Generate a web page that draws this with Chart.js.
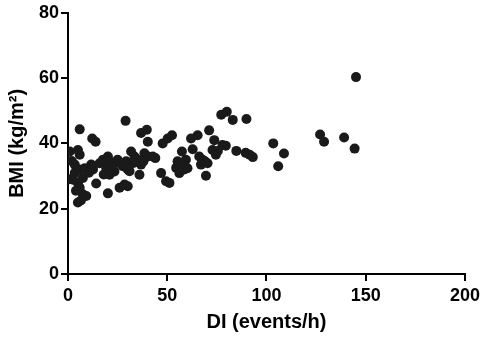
<!DOCTYPE html>
<html>
<head>
<meta charset="utf-8">
<script src="https://cdn.jsdelivr.net/npm/chart.js@4/dist/chart.umd.min.js"></script>
<style>
  html, body { margin: 0; padding: 0; background: #fff; }
  #wrap { width: 484px; height: 338px; }
</style>
</head>
<body>
<div id="wrap"><canvas id="myChart" width="484" height="338"></canvas></div>
<script>
// DI (events/h) vs BMI (kg/m2)
const diValues = [
    0.5, 0.9, 1.9, 3.4, 5.0, 5.9, 5.9, 2.5, 5.0, 5.9, 7.5, 5.0, 9.2, 3.4, 5.9, 7.5, 8.4, 6.5, 4.0,
    11.7, 12.6, 12.2, 13.9, 14.2, 15.9, 17.6, 20.1, 20.9, 19.3, 20.9, 20.1, 23.4, 26.0, 27.6, 29.3,
    30.1, 26.0, 28.5, 30.1, 29.0, 10.5, 22.0, 25.0, 18.0,
    31.8, 33.5, 35.1, 36.8, 36.0, 38.5, 40.2, 42.7, 36.8, 39.7, 40.2, 33.0, 38.0, 31.0, 44.0,
    47.7, 50.2, 52.4, 46.9, 49.4, 51.1, 55.2, 57.7, 59.4, 56.1, 58.6, 60.2, 57.4, 54.5,
    62.0, 65.3, 62.8, 66.1, 67.8, 70.3, 67.0, 69.5, 72.8, 73.7, 71.1, 77.8, 77.2, 80.0, 83.0,
    84.8, 75.5, 79.5, 89.9, 89.5, 93.1, 91.5, 74.5, 69.0,
    103.4, 108.8, 105.9, 127.0, 129.0, 139.1, 144.4, 145.1
];
const bmiValues = [
    29.0, 37.5, 34.6, 33.5, 38.0, 36.5, 44.3, 28.9, 27.9, 26.4, 24.4, 21.9, 23.9, 30.9, 32.0, 29.4, 32.4, 22.5, 25.5,
    33.5, 32.0, 41.5, 40.5, 27.7, 33.9, 35.0, 36.0, 34.5, 32.4, 30.4, 24.7, 31.4, 33.9, 33.0, 34.5,
    32.0, 26.4, 27.4, 26.9, 46.9, 31.0, 33.0, 35.0, 30.5,
    37.5, 36.0, 35.0, 33.5, 30.4, 37.0, 36.0, 36.0, 43.2, 44.2, 40.5, 34.0, 34.5, 31.5, 35.5,
    40.0, 41.5, 42.5, 30.9, 28.4, 27.9, 34.5, 33.5, 35.0, 30.9, 32.0, 32.4, 37.5, 32.5,
    41.5, 42.5, 38.2, 36.0, 35.0, 33.9, 33.5, 30.1, 38.0, 41.0, 44.0, 39.5, 48.8, 49.7, 47.2,
    37.7, 37.7, 39.3, 47.5, 37.1, 35.8, 36.5, 36.5, 34.5,
    40.0, 36.9, 33.0, 42.7, 40.5, 41.8, 38.4, 60.3
];
const xTicks = [0, 50, 100, 150, 200];
const yTicks = [0, 20, 40, 60, 80];

const points = diValues.map((d, i) => ({ x: d, y: bmiValues[i] }));

const tickFont = { family: 'Liberation Sans, Arial, sans-serif', size: 18, weight: 'bold' };
const titleFont = { family: 'Liberation Sans, Arial, sans-serif', size: 20, weight: 'bold' };

function axisStyle() {
    return {
        grid: { display: true, drawOnChartArea: false, drawTicks: true, tickLength: 7, color: '#000', lineWidth: 2 },
        border: { display: true, color: '#000', width: 2 },
    };
}

const ctx = document.getElementById('myChart').getContext('2d');
const myChart = new Chart(ctx, {
    type: 'scatter',
    data: {
        datasets: [{
            data: points,
            backgroundColor: '#1a1a1a',
            borderWidth: 0,
            pointRadius: 5
        }]
    },
    options: {
        responsive: false,
        animation: false,
        layout: { padding: { top: 9, right: 17, bottom: 0, left: 0 } },
        plugins: {
            legend: { display: false },
            tooltip: { enabled: false }
        },
        scales: {
            x: {
                type: 'linear',
                min: xTicks[0],
                max: xTicks[xTicks.length - 1],
                ...axisStyle(),
                ticks: {
                    stepSize: 50,
                    color: '#000',
                    font: tickFont,
                    padding: 4,
                    maxRotation: 0
                },
                title: {
                    display: true,
                    text: 'DI (events/h)',
                    color: '#000',
                    font: titleFont,
                    padding: { top: 2, bottom: 4 }
                },
                afterFit: s => { s.height = 64; }
            },
            y: {
                type: 'linear',
                min: yTicks[0],
                max: yTicks[yTicks.length - 1],
                ...axisStyle(),
                ticks: {
                    stepSize: 20,
                    color: '#000',
                    font: tickFont,
                    padding: 2
                },
                title: {
                    display: true,
                    text: 'BMI (kg/m²)',
                    color: '#000',
                    font: titleFont,
                    padding: { top: 5, bottom: 4 }
                },
                afterFit: s => { s.width = 68; }
            }
        }
    }
});
</script>
</body>
</html>
